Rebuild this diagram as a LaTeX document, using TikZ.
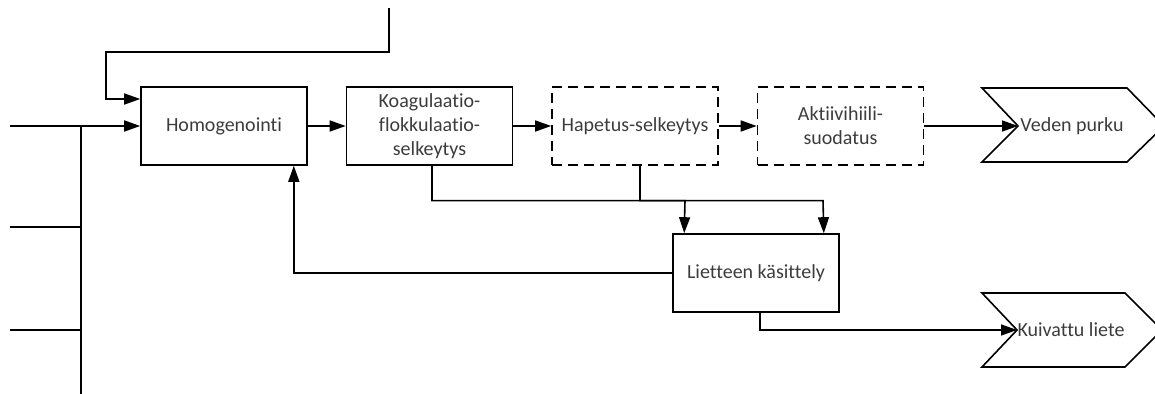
\documentclass[tikz,border=0pt]{standalone}
\usepackage{fontspec}
\setmainfont[Ligatures=NoCommon]{Carlito}
\usetikzlibrary{arrows.meta,calc}
\definecolor{txt}{HTML}{3C3C3C}
\begin{document}
\begin{tikzpicture}[x=0.5pt,y=-0.5pt,
  line width=0.8pt,
  arr/.style={-{Triangle[length=8pt,width=5.5pt]}},
  procbox/.style={draw,minimum width=83pt,minimum height=39pt,inner sep=0pt,align=center,text=txt,font=\fontsize{10pt}{12pt}\selectfont},
  dashbox/.style={procbox,dash pattern=on 5pt off 3pt},
  lbl/.style={text=txt,font=\fontsize{10pt}{12pt}\selectfont,inner sep=0pt}]
\useasboundingbox (0,0) rectangle (1155,394);
\clip (0,0) rectangle (1155,394);
% process boxes
\node[procbox] (homog) at (224,126) {Homogenointi};
\node[procbox] (koag) at (429.5,126) {Koagulaatio-\\flokkulaatio-\\selkeytys};
\node[dashbox] (hap) at (635,126) {Hapetus-selkeytys};
\node[dashbox] (akt) at (840.5,126) {Aktiivihiili-\\suodatus};
\node[procbox] (liet) at (756,273) {Lietteen käsittely};
% outputs
\node[lbl] (veden) at (1072,126) {Veden purku};
\draw (982,88) -- (1127,88) -- (1164,126) -- (1127,162) -- (982,162) -- (1018,126) -- cycle;
\coordinate (vnotch) at (1018,126);
\node[lbl] (kuiv) at (1071,330) {Kuivattu liete};
\draw (982,293) -- (1125,293) -- (1162,330) -- (1125,367) -- (982,367) -- (1017,330) -- cycle;
\coordinate (knotch) at (1017,330);
% inputs
\coordinate (top) at (389,8);
\coordinate (y99) at (0,99);
\coordinate (in1) at (10,126);
\coordinate (in2) at (10,227);
\coordinate (in3) at (10,330);
\coordinate (busT) at (80.7,126);
\coordinate (busB) at (80.7,396);
\draw[arr] (top) |- (106,52) |- (homog.west |- y99);
\draw[arr] (in1) -- (homog.west);
\draw (busT) -- (busB);
\draw (in2) -- (busT |- in2);
\draw (in3) -- (busT |- in3);
% main chain
\draw[arr] (homog.east) -- (koag.west);
\draw[arr] (koag.east) -- (hap.west);
\draw[arr] (hap.east) -- (akt.west);
\draw[arr] (akt.east) -- (vnotch);
% to sludge treatment
\coordinate (y200) at (0,200.7);
\draw[arr] ($(koag.south)+(2.5,0)$) |- (y200 -| 823,0) -- ($(liet.north east)+(-16,0)$);
\draw[arr] ($(hap.south)+(5,0)$) |- (y200 -| 685,0) -- ($(liet.north west)+(12,0)$);
% feedback
\draw[arr] (liet.west) -| ($(homog.south east)+(-14,0)$);
% dried sludge
\draw[arr] ($(liet.south)+(4,0)$) |- (knotch);
\end{tikzpicture}
\end{document}
